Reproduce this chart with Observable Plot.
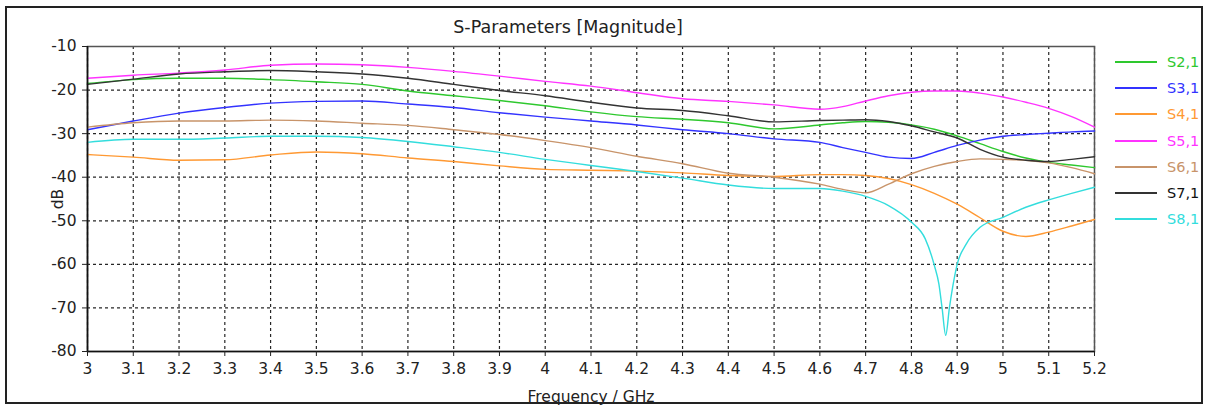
<!DOCTYPE html>
<html>
<head>
<meta charset="utf-8">
<script src="https://cdn.jsdelivr.net/npm/d3@7"></script>
<script src="https://cdn.jsdelivr.net/npm/@observablehq/plot@0.6"></script>
<style>
  html, body { margin: 0; padding: 0; background: #fff; }
  #wrap { position: relative; width: 1206px; height: 405px; overflow: hidden;
          font-family: "DejaVu Sans", sans-serif; }
  #border { position: absolute; left: 5px; top: 6px; width: 1198px; height: 398px; border: 2px solid #222; box-sizing: border-box; pointer-events: none; }
  #title { position: absolute; top: 17px; left: 568px; transform: translateX(-50%); font-size: 17.5px; color: #222; white-space: nowrap; }
  #legend { position: absolute; left: 1115px; top: 49px; }
  .item { display: flex; align-items: center; height: 26.2px; font-size: 14.5px; }
  .sw { width: 42px; height: 2px; margin-right: 10px; }
  #chart { position: absolute; left: 0; top: 0; }
</style>
</head>
<body>
<div id="wrap">
  <div id="chart"></div>
  <div id="title">S-Parameters [Magnitude]</div>
  <div id="legend"></div>
  <div id="border"></div>
</div>
<script>
const seriesNames = ["S2,1", "S3,1", "S4,1", "S5,1", "S6,1", "S7,1", "S8,1"];
const seriesColors = ["#2ec82e", "#3333ff", "#ff9933", "#ff33ff", "#c8946a", "#333333", "#33dddd"];
const legendTextColors = ["#2ec82e", "#3333ff", "#ff9933", "#ff33ff", "#c8946a", "#111111", "#33dddd"];

const xTicks = [3, 3.1, 3.2, 3.3, 3.4, 3.5, 3.6, 3.7, 3.8, 3.9, 4, 4.1, 4.2, 4.3, 4.4, 4.5, 4.6, 4.7, 4.8, 4.9, 5, 5.1, 5.2];
const yTicks = [-80, -70, -60, -50, -40, -30, -20, -10];

const freq = [3.0, 3.1, 3.2, 3.3, 3.4, 3.5, 3.6, 3.7, 3.8, 3.9, 4.0, 4.1, 4.2, 4.3, 4.4, 4.5, 4.6, 4.65, 4.7, 4.75, 4.8, 4.85, 4.9, 4.95, 5.0, 5.05, 5.1, 5.15, 5.2];
const s21 = [-18.5, -17.6, -17.3, -17.3, -17.6, -18.1, -18.7, -20.2, -21.3, -22.4, -23.6, -25.0, -26.1, -26.7, -27.5, -28.9, -28.0, -27.5, -27.2, -27.4, -28.0, -29.0, -30.5, -32.3, -34.1, -35.6, -36.6, -37.2, -37.8];
const s31 = [-29.1, -27.1, -25.3, -24.0, -23.0, -22.6, -22.5, -23.2, -24.0, -25.2, -26.2, -27.1, -28.0, -29.1, -30.0, -31.2, -32.0, -33.2, -34.3, -35.4, -35.7, -34.3, -32.7, -31.5, -30.6, -30.2, -29.9, -29.6, -29.4];
const s41 = [-34.8, -35.4, -36.1, -36.0, -34.9, -34.2, -34.6, -35.6, -36.4, -37.4, -38.2, -38.4, -38.6, -39.0, -39.6, -39.8, -39.4, -39.4, -39.6, -40.3, -41.7, -43.7, -46.2, -49.3, -52.4, -53.6, -52.6, -51.2, -49.7];
const s51 = [-17.3, -16.6, -16.1, -15.4, -14.3, -14.0, -14.2, -14.8, -15.7, -16.8, -18.0, -19.1, -20.6, -22.0, -22.6, -23.4, -24.4, -23.8, -22.5, -21.3, -20.5, -20.2, -20.2, -20.7, -21.6, -22.8, -24.2, -26.1, -28.5];
const s61 = [-28.5, -27.5, -27.1, -27.1, -26.9, -27.1, -27.6, -28.1, -29.1, -30.2, -31.6, -33.2, -35.2, -36.9, -39.1, -40.0, -41.6, -42.8, -43.6, -41.6, -39.2, -37.5, -36.4, -35.8, -35.9, -36.1, -36.7, -37.8, -39.2];
const s71 = [-18.7, -17.5, -16.3, -15.8, -15.5, -15.8, -16.3, -17.3, -18.7, -20.1, -21.3, -22.8, -24.1, -24.7, -25.9, -27.3, -27.0, -26.9, -26.8, -27.2, -28.2, -29.6, -31.0, -33.6, -35.4, -36.1, -36.4, -35.9, -35.3];
const cyanFreq = [3.0, 3.1, 3.2, 3.3, 3.4, 3.5, 3.6, 3.7, 3.8, 3.9, 4.0, 4.1, 4.2, 4.3, 4.4, 4.5, 4.6, 4.65, 4.7, 4.75, 4.8, 4.83, 4.85, 4.86, 4.867, 4.875, 4.883, 4.89, 4.9, 4.92, 4.95, 5.0, 5.05, 5.1, 5.15, 5.2];
const s81 = [-32.0, -31.3, -31.3, -31.0, -30.6, -30.6, -30.9, -31.8, -33.0, -34.3, -35.9, -37.3, -38.7, -40.2, -41.8, -42.6, -42.6, -43.2, -44.4, -46.5, -50.3, -54.1, -60.2, -64.5, -70.0, -76.3, -70.0, -65.3, -60.0, -55.3, -51.5, -49.2, -46.9, -45.2, -43.7, -42.3];

const seriesValues = [s21, s31, s41, s51, s61, s71, s81];
const seriesFreqs = [freq, freq, freq, freq, freq, freq, cyanFreq];

const rows = [];
seriesNames.forEach((name, i) => {
  seriesValues[i].forEach((v, j) => rows.push({ series: name, f: seriesFreqs[i][j], v }));
});

const fmt = d => String(+(+d).toFixed(1));

const chart = Plot.plot({
  width: 1206,
  height: 405,
  marginLeft: 87,
  marginRight: 112,
  marginTop: 46,
  marginBottom: 54,
  style: { fontFamily: '"DejaVu Sans", sans-serif', background: "transparent", color: "#222" },
  x: { domain: [3, 5.2] },
  y: { domain: [-80, -10] },
  color: { domain: seriesNames, range: seriesColors },
  marks: [
    Plot.gridX(xTicks, { stroke: "#000", strokeOpacity: 0.85, strokeWidth: 1.2, strokeDasharray: "3,3" }),
    Plot.gridY(yTicks, { stroke: "#000", strokeOpacity: 0.85, strokeWidth: 1.2, strokeDasharray: "3,3" }),
    Plot.frame({ stroke: "#555", strokeWidth: 1.5 }),
    Plot.line(rows, { x: "f", y: "v", z: "series", stroke: "series", strokeWidth: 1.4, curve: "monotone-x" }),
    Plot.ruleX([3], { stroke: "#111", strokeWidth: 1.6 }),
    Plot.ruleY([-80], { stroke: "#111", strokeWidth: 1.6 }),
    Plot.axisX({ ticks: xTicks, tickFormat: fmt, tickSize: 5, tickPadding: 6, fontSize: 15.5,
                 label: "Frequency / GHz", labelAnchor: "center", labelArrow: "none", labelOffset: 50, labelFontSize: 14.5 }),
    Plot.axisY({ ticks: yTicks, tickFormat: fmt, tickSize: 5, tickPadding: 6, fontSize: 15.5,
                 label: "dB", labelAnchor: "center", labelArrow: "none", labelOffset: 36 })
  ]
});
document.getElementById("chart").appendChild(chart);

const legend = document.getElementById("legend");
seriesNames.forEach((name, i) => {
  const item = document.createElement("div");
  item.className = "item";
  const sw = document.createElement("div");
  sw.className = "sw";
  sw.style.background = seriesColors[i];
  const t = document.createElement("span");
  t.textContent = name;
  t.style.color = legendTextColors[i];
  item.appendChild(sw);
  item.appendChild(t);
  legend.appendChild(item);
});
</script>
</body>
</html>
